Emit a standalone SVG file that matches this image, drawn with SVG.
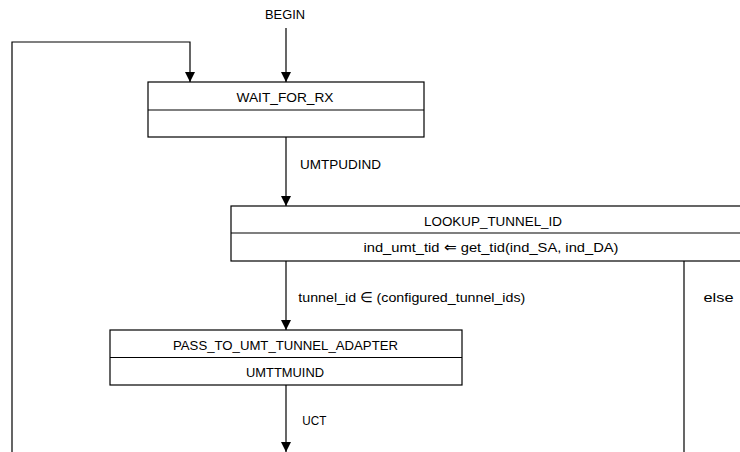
<svg xmlns="http://www.w3.org/2000/svg" width="740" height="452" viewBox="0 0 740 452">
<style>
text{font-family:"Liberation Sans",Arial,sans-serif;font-size:13.5px;fill:#000}
.c{text-anchor:middle}
.box{fill:#fff;stroke:#000;stroke-width:1.2}
.ln{fill:none;stroke:#000;stroke-width:1.2}
</style>
<defs>
<marker id="ah" viewBox="0 0 10 10" refX="10" refY="5" markerWidth="10" markerHeight="10" markerUnits="userSpaceOnUse" orient="auto">
<path d="M0,0 L10,5 L0,10 z" fill="#000"/>
</marker>
</defs>
<rect width="740" height="452" fill="#fff"/>
<g id="connectors">
<text x="285" y="19" class="c" textLength="40" lengthAdjust="spacingAndGlyphs">BEGIN</text>
<line class="ln" x1="286" y1="28" x2="286" y2="82" marker-end="url(#ah)"/>
<polyline class="ln" points="12,452 12,42 190,42 190,82" marker-end="url(#ah)"/>
<line class="ln" x1="286" y1="137" x2="286" y2="206" marker-end="url(#ah)"/>
<text x="300" y="169" textLength="81" lengthAdjust="spacingAndGlyphs">UMTPUDIND</text>
<line class="ln" x1="286" y1="261" x2="286" y2="330" marker-end="url(#ah)"/>
<text x="298.3" y="302" textLength="227" lengthAdjust="spacingAndGlyphs">tunnel_id ∈ (configured_tunnel_ids)</text>
<line class="ln" x1="684" y1="261" x2="684" y2="452"/>
<text x="703.5" y="302" textLength="30" lengthAdjust="spacingAndGlyphs">else</text>
<line class="ln" x1="286" y1="385" x2="286" y2="452" marker-end="url(#ah)"/>
<text x="302.3" y="424.5" textLength="24" lengthAdjust="spacingAndGlyphs">UCT</text>
</g>
<g id="WAIT_FOR_RX">
<rect class="box" x="148" y="82" width="276" height="55"/>
<line class="ln" x1="148" y1="110" x2="424" y2="110"/>
<text x="285" y="101.5" class="c" textLength="97" lengthAdjust="spacingAndGlyphs">WAIT_FOR_RX</text>
</g>
<g id="LOOKUP_TUNNEL_ID">
<rect class="box" x="231" y="206" width="522" height="55"/>
<line class="ln" x1="231" y1="233" x2="753" y2="233"/>
<text x="493" y="226" class="c" textLength="138" lengthAdjust="spacingAndGlyphs">LOOKUP_TUNNEL_ID</text>
<text x="491" y="252" class="c" textLength="255" lengthAdjust="spacingAndGlyphs">ind_umt_tid ⇐ get_tid(ind_SA, ind_DA)</text>
</g>
<g id="PASS_TO_UMT_TUNNEL_ADAPTER">
<rect class="box" x="110" y="330" width="352" height="55"/>
<line class="ln" x1="110" y1="357.5" x2="462" y2="357.5"/>
<text x="285.5" y="350" class="c" textLength="225" lengthAdjust="spacingAndGlyphs">PASS_TO_UMT_TUNNEL_ADAPTER</text>
<text x="285" y="377" class="c" textLength="78" lengthAdjust="spacingAndGlyphs">UMTTMUIND</text>
</g>
</svg>
